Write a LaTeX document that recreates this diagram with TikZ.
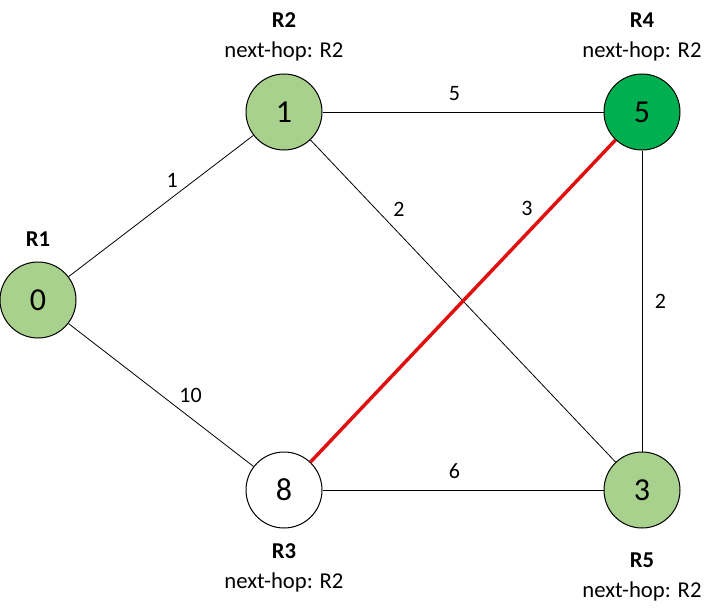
\documentclass[tikz,border=0pt]{standalone}
\usepackage{fontspec}
\setmainfont{Carlito}
\usetikzlibrary{positioning}
\definecolor{visited}{RGB}{169,209,142}
\definecolor{current}{RGB}{0,176,80}
\definecolor{path}{RGB}{222,16,16}

\begin{document}
\begin{tikzpicture}[x=0.75pt, y=-0.75pt,
      router/.style={draw, circle, line width=0.75pt, minimum size=57pt, inner sep=0pt, font=\fontsize{24}{26}\selectfont},
      title/.style={align=center, font=\fontsize{17}{22.5}\selectfont},
      link/.style={line width=0.6pt},
      cost/.style={font=\fontsize{16.5}{18}\selectfont}
    ]
    \useasboundingbox (0,0) rectangle (718,610);

    % Routers
    \node[router, fill=visited] (r1) at (38,300) {0};
    \node[router, fill=visited] (r2) at (284,112) {1};
    \node[router, fill=current] (r4) at (642,112) {5};
    \node[router, fill=white]   (r3) at (284,490) {8};
    \node[router, fill=visited] (r5) at (642,490) {3};

    % Names and next hops
    \node[title, above=8pt of r1] (t1) {\textbf{R1}};
    \node[title, above=6pt of r2] (t2) {\textbf{R2}\\next-hop: R2};
    \node[title, above=6pt of r4] (t4) {\textbf{R4}\\next-hop: R2};
    \node[title, below=8pt of r3] (t3) {\textbf{R3}\\next-hop: R2};
    \node[title, below=15pt of r5] (t5) {\textbf{R5}\\next-hop: R2};

    % Links
    \draw[link] (r1) -- node[cost, pos=0.56, above=4pt] {1} (r2);
    \draw[link] (r1) -- node[cost, pos=0.66, above=8pt] {10} (r3);
    \draw[link] (r2) -- node[cost, pos=0.47, above=5pt] {5} (r4);
    \draw[link] (r2) -- node[cost, pos=0.29, above=9pt] {2} (r5);
    \draw[link] (r4) -- node[cost, right=6pt] {2} (r5);
    \draw[link] (r3) -- node[cost, pos=0.47, above=5pt] {6} (r5);

    % Shortest path
    \draw[path, line width=2.6pt] (r3) -- node[cost, black, pos=0.71, above=9pt] {3} (r4);

  \end{tikzpicture}
\end{document}
